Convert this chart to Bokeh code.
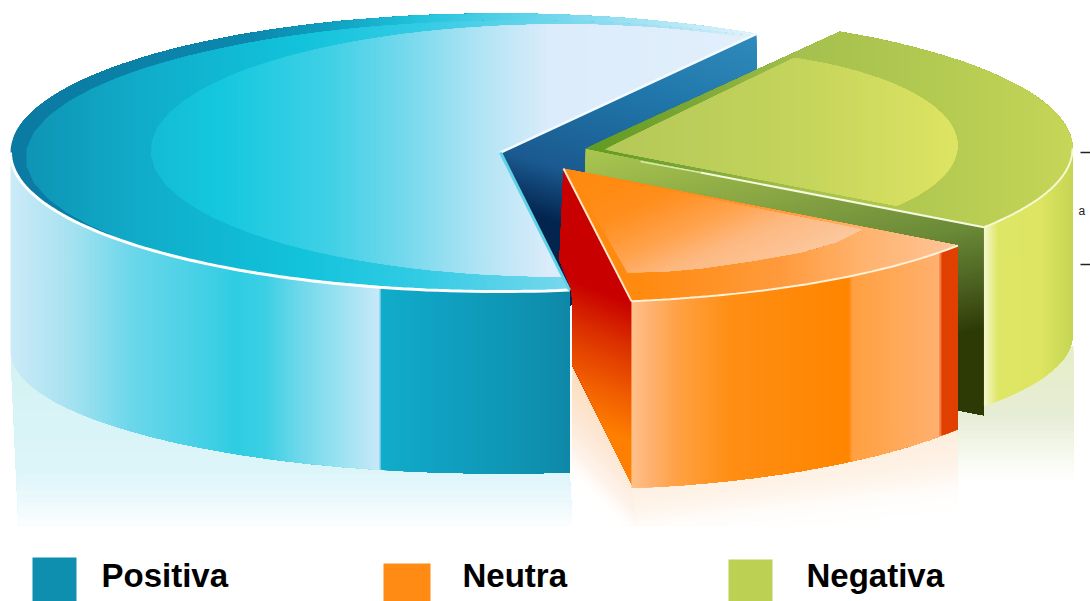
import math
from bokeh.plotting import figure
from bokeh.models import Range1d
from bokeh.core.properties import value
from bokeh.embed import file_html
from bokeh.resources import INLINE

categories = ["Positiva", "Neutra", "Negativa"]
shares = [61, 13, 26]
legend_colors = ["#0e8fb0", "#ff8a14", "#bcd054"]

START_ANGLE = 58.5

p = figure(width=1090, height=601, output_backend="svg", toolbar_location=None,
           x_range=Range1d(0, 1090), y_range=Range1d(601, 0),
           min_border=0, outline_line_color=None, background_fill_color="white")
p.axis.visible = False
p.grid.visible = False

P_X, P_Y, P_C = [], [], []


def hex2(c):
    return tuple(int(c[i:i + 2], 16) for i in (1, 3, 5))


def mix(stops, t):
    if t <= stops[0][0]:
        return stops[0][1]
    for (a, ca), (b, cb) in zip(stops, stops[1:]):
        if t <= b:
            f = (t - a) / max(b - a, 1e-6)
            A, B = hex2(ca), hex2(cb)
            return "#%02x%02x%02x" % tuple(round(A[i] + (B[i] - A[i]) * f) for i in range(3))
    return stops[-1][1]


def clip(poly, d, t0):
    out = []
    n = len(poly)
    for i in range(n):
        a, b = poly[i], poly[(i + 1) % n]
        ta = a[0] * d[0] + a[1] * d[1]
        tb = b[0] * d[0] + b[1] * d[1]
        if ta >= t0:
            out.append(a)
        if (ta >= t0) != (tb >= t0):
            f = (t0 - ta) / (tb - ta)
            out.append((a[0] + (b[0] - a[0]) * f, a[1] + (b[1] - a[1]) * f))
    return out


def fill(poly, stops, d=(1, 0), step=3):
    """Gradient fill by painting overlapping half-plane clips in order."""
    ts = [q[0] * d[0] + q[1] * d[1] for q in poly]
    t, tmax = min(ts), max(ts)
    first = True
    while t < tmax:
        c = mix(stops, t + step / 2)
        q = poly if first else clip(poly, d, t)
        first = False
        if len(q) >= 3:
            P_X.append([a[0] for a in q])
            P_Y.append([a[1] for a in q])
            P_C.append(c)
        t += step


def arc(cx, cy, rx, ry, a0, a1, n=70):
    res = []
    for i in range(n + 1):
        a = math.radians(a0 + (a1 - a0) * i / n)
        res.append((cx + rx * math.cos(a), cy - ry * math.sin(a)))
    return res


def hit(apex, dx, dy, c, rx, ry):
    ox, oy = (apex[0] - c[0]) / rx, (apex[1] - c[1]) / ry
    ux, uy = dx / rx, dy / ry
    A = ux * ux + uy * uy
    B = 2 * (ox * ux + oy * uy)
    C = ox * ox + oy * oy - 1
    return (-B + math.sqrt(max(B * B - 4 * A * C, 0))) / (2 * A)


def ray_shape(apex, e0, e1, ellipses, n=70):
    """Region seen from apex, sweeping from point e0 to point e1 (counter-clockwise on
    the page), bounded by the nearest of the ellipses."""
    a0 = math.atan2(-(e0[1] - apex[1]), e0[0] - apex[0])
    a1 = math.atan2(-(e1[1] - apex[1]), e1[0] - apex[0])
    while a1 < a0:
        a1 += 2 * math.pi
    pts = [apex]
    for i in range(n + 1):
        a = a0 + (a1 - a0) * i / n
        dx, dy = math.cos(a), -math.sin(a)
        s = min(hit(apex, dx, dy, *e) for e in ellipses)
        pts.append((apex[0] + dx * s, apex[1] + dy * s))
    return pts


# angles of the three slices, from the shares
spans = [s / sum(shares) * 360 for s in shares]
pos0, pos1 = START_ANGLE, START_ANGLE + spans[0]
neu0, neu1 = pos1, pos1 + spans[1]
neg0, neg1 = neu1, neu1 + spans[2]

# geometry of each slice (apex, top ellipse, bottom ellipse)
PX, PY, PRX, PRY = 500, 152, 490, 139
NX, NY, NRX, NRY = 563, 168, 482, 134
GX, GY, GRX, GRY = 585, 148, 487, 137

# --------- reflections
pos_bot = arc(PX, 350, PRX, 123, 180, pos1)
fill([(10, 350)] + pos_bot + [(572, 525), (18, 525)],
     [(350, "#d3f2f2"), (470, "#dcf5f9"), (500, "#ecf9fc"), (525, "#fbfeff")], d=(0, 1), step=4)

fill([(572, 365), (637, 487), (637, 525), (572, 525)],
     [(-145, "#fcdcbc"), (-105, "#fdead9"), (-85, "#fef4ec"), (-70, "#ffffff")], d=(-0.7, 0.7), step=3)
neu_bot = arc(NX, 347, NRX, 142, neu0, neu1, 40)
fill(neu_bot + [(957, 525), (637, 525)],
     [(550, "#fdeede"), (580, "#fef3e8"), (605, "#fffdfb"), (630, "#ffffff")], d=(0.12, 1), step=4)
fill([(957, 400), (1073, 345), (1073, 480), (958, 480)],
     [(345, "#e6eec6"), (415, "#e6edd6"), (445, "#f2f6e8"), (480, "#ffffff")], d=(0, 1), step=4)

# --------- positive slice
pe0 = arc(PX, PY, PRX, PRY, pos0, pos0, 1)[0]
pe1 = arc(PX, PY, PRX, PRY, pos1, pos1, 1)[0]
fill([(PX, PY), pe0, (pe0[0], pe0[1] + 185), (PX, PY + 185)],
     [(-190, "#2f8abc"), (-90, "#1f74a8"), (0, "#1b5a90"), (55, "#03244e"), (120, "#03244e")],
     d=(-0.3, 1))

side = arc(PX, PY, PRX, PRY, 180, pos1) + arc(PX, 350, PRX, 123, pos1, 180)
fill(side, [(9, "#cdeaf8"), (70, "#a6e2f0"), (130, "#6cd7ea"), (200, "#45d0e6"), (235, "#2fcde2"),
            (265, "#3ccfe4"), (300, "#6fd8ea"), (340, "#9be2f1"), (379, "#c8e8f8"), (380.5, "#11acca"),
            (450, "#109fc0"), (520, "#0f94b2"), (575, "#0f86a6")], step=1.5)

top = [(PX, PY)] + arc(PX, PY, PRX, PRY, pos0, pos1, 110)
fill(top, [(10, "#0b7aa2"), (250, "#0c88ae"), (330, "#10a0c0"), (420, "#22c4dc"), (550, "#6fd6ec"),
           (757, "#e6f3fb")])
outer_e = ((PX, PY), PRX, PRY)
mid = ray_shape((PX, PY), pe0, pe1, [outer_e, ((520, 157), 495, 137)], 130)
fill(mid, [(25, "#0f94b5"), (150, "#10aecb"), (300, "#12c3db"), (420, "#33cbe4"),
           (550, "#6fd6ec"), (700, "#c0e6f6"), (757, "#e6f3fb")])
inner = ray_shape((PX, PY), pe0, pe1, [((560, 150), 410, 126)], 110)
fill(inner, [(150, "#14bbd5"), (220, "#14c8de"), (330, "#40d0e6"), (400, "#72d8ec"), (480, "#b0e4f4"),
             (550, "#dcecfb"), (757, "#e2effb")])

# --------- negative slice
ge0 = arc(GX, GY, GRX, GRY, neg1, neg1, 1)[0]
ge1 = arc(GX, GY, GRX, GRY, neg0, neg0, 1)[0]
depth = 188
fill([(GX, GY), ge1, (ge1[0], ge1[1] + depth), (GX, GY + depth)],
     [(279, "#aac650"), (440, "#6b8a38"), (500, "#4a5f1f"), (545, "#2e3a05"), (720, "#2e3a05")],
     d=(0.22, 1))
g_side = arc(GX, GY, GRX, GRY, neg0, 360) + arc(GX, 335, GRX, 123, 360, neg0)
fill(g_side, [(ge1[0], "#f4f8d0"), (ge1[0] + 14, "#dfe666"), (1040, "#dde562"), (1075, "#c3d452")], step=2)
g_top = [(GX, GY)] + arc(GX, GY, GRX, GRY, neg0, neg1, 70)
fill(g_top, [(585, "#5f9a22"), (700, "#7fa838"), (800, "#a5c04e"), (950, "#b5cb52"), (1075, "#c6d658")])
g_in = ray_shape((604, 149), (905, 207), (805, 52), [((690, 145), 267, 95)], 70)
fill(g_in, [(605, "#b4c858"), (800, "#c4d45c"), (950, "#dde362")])

# --------- neutral slice
ne0 = arc(NX, NY, NRX, NRY, neu0, neu0, 1)[0]
ne1 = arc(NX, NY, NRX, NRY, neu1, neu1, 1)[0]
red = [(NX, NY), ne0, (ne0[0] + 2, 487), (572, 365), (572, 300), (570, 287), (559, 260)]
fill(red, [(50, "#c80000"), (100, "#dd3500"), (150, "#f26000"), (190, "#ff8000"), (260, "#ff8000")],
     d=(-0.4, 1))
n_side = arc(NX, NY, NRX, NRY, neu0, neu1, 50) + arc(NX, 347, NRX, 142, neu1, neu0, 50)
fill(n_side, [(633, "#ffc088"), (650, "#ffb070"), (680, "#ffa040"), (730, "#ff8e14"), (849, "#ff8500"),
              (851, "#ffa040"), (900, "#ffa95a"), (939, "#ffb070"), (941, "#e04000"), (960, "#e04000")],
     step=2)
n_top = [(NX, NY)] + arc(NX, NY, NRX, NRY, neu0, neu1, 50)
fill(n_top, [(640, "#ff8a10"), (780, "#ff9a3c"), (860, "#ffb26c"), (950, "#fdc496")])
n_in = [(NX + 5, NY + 2), (627, 272), (665, 271), (700, 268), (755, 260), (800, 252), (835, 242), (862, 229)]
fill(n_in, [(400, "#ff8a10"), (440, "#ff8e1c"), (480, "#ffa24c"), (510, "#fdb880"), (550, "#fcc79c")],
     d=(0.4, 0.9))

p.patches(P_X, P_Y, fill_color=P_C, line_color=None)

# --------- rims


def stroke(pts, color, width):
    p.line([q[0] for q in pts], [q[1] for q in pts], line_color=color, line_width=width)


stroke(arc(PX, PY, PRX, PRY, 180, pos1), "#ffffff", 3)
stroke([(PX, PY), pe0], "#f4fbff", 2.5)
stroke([(PX, PY), pe1], "#5fd3e6", 3)
stroke([(640, 161), (700, 172)], "#dbe8ab", 1.5)
stroke([(700, 172), ge1], "#f6fadf", 2)
stroke(arc(GX, GY, GRX, GRY, neg0, 360), "#f6fad2", 2)
stroke([(NX, NY), ne0], "#ffe8c8", 2)
stroke(arc(NX, NY, NRX, NRY, neu0, neu1, 40), "#fff0d8", 2)

# --------- fragments of the cropped neighbour on the right edge
p.segment([1080, 1080], [152, 264], [1090, 1090], [152, 264], line_color="#222222", line_width=1.5)
p.text([1078], [210], text=["a"], text_font=value("Liberation Sans"), text_font_size="12px",
       text_color="#222222", text_baseline="alphabetic")

# --------- legend
sw_l = [32, 383, 728]
sw_r = [76, 430, 772]
sw_t = [557, 563, 559]
p.quad(left=sw_l, right=sw_r, top=sw_t, bottom=[601, 601, 601], fill_color=legend_colors, line_color=None)
p.text([101, 462, 806], [575, 575, 575], text=categories, text_font=value("Liberation Sans"),
       text_font_style="bold", text_font_size="33px", text_color="#000000", text_baseline="alphabetic")

open("out.html", "w").write(file_html(p, INLINE))
